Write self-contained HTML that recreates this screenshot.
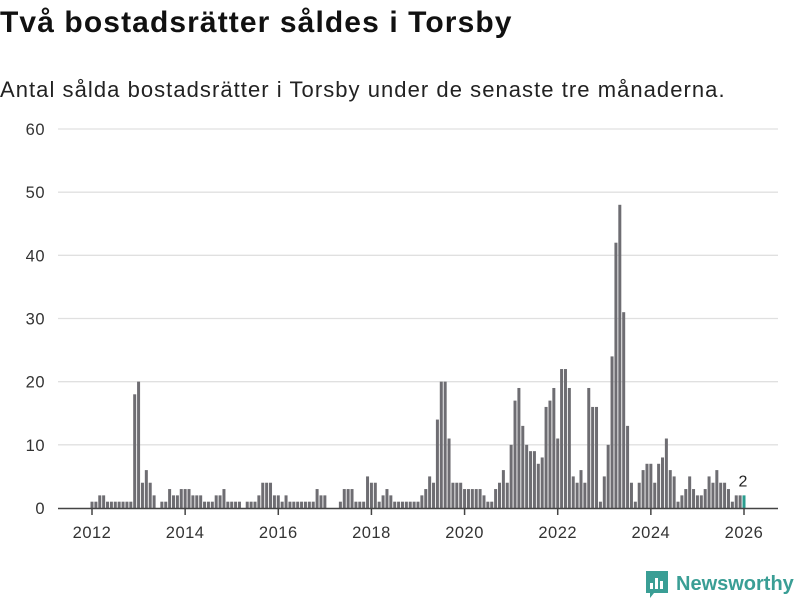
<!DOCTYPE html>
<html><head><meta charset="utf-8"><style>
body{margin:0;background:#fff;font-family:"Liberation Sans",sans-serif;}
#wrap{position:relative;width:800px;height:600px;overflow:hidden;}
h1{position:absolute;left:0;top:6px;margin:0;font-size:30px;font-weight:bold;color:#111;letter-spacing:1.1px}
p.sub{position:absolute;left:0;top:77px;margin:0;font-size:22px;color:#222;letter-spacing:1.05px}
</style></head><body>
<div id="wrap">
<h1>Två bostadsrätter såldes i Torsby</h1>
<p class="sub">Antal sålda bostadsrätter i Torsby under de senaste tre månaderna.</p>
<svg id="chart" width="800" height="600" style="position:absolute;left:0;top:0"></svg>
</div>
<script>
const startYear = 2012;
const values = [
1,1,2,2,1,1,1,1,1,1,1,18,
20,4,6,4,2,0,1,1,3,2,2,3,
3,3,2,2,2,1,1,1,2,2,3,1,
1,1,1,0,1,1,1,2,4,4,4,2,
2,1,2,1,1,1,1,1,1,1,3,2,
2,0,0,0,1,3,3,3,1,1,1,5,
4,4,1,2,3,2,1,1,1,1,1,1,
1,2,3,5,4,14,20,20,11,4,4,4,
3,3,3,3,3,2,1,1,3,4,6,4,
10,17,19,13,10,9,9,7,8,16,17,19,
11,22,22,19,5,4,6,4,19,16,16,1,
5,10,24,42,48,31,13,4,1,4,6,7,
7,4,7,8,11,6,5,1,2,3,5,3,
2,2,3,5,4,6,4,4,3,1,2,2,
2];
const yTicks = [0,10,20,30,40,50,60];
const xTickYears = [2012,2014,2016,2018,2020,2022,2024,2026];

const svg = document.getElementById('chart');
const NS = 'http://www.w3.org/2000/svg';
const x0 = 92, x1 = 744, y0 = 508, yTop = 129;
const monthW = (x1 - x0) / ((2026 - startYear) * 12);
const xScale = m => x0 + m * monthW;
const yScale = v => y0 - (v / 60) * (y0 - yTop);
function mk(tag, attrs){const e=document.createElementNS(NS,tag);for(const k in attrs)e.setAttribute(k,attrs[k]);svg.appendChild(e);return e;}

yTicks.forEach(t=>{
  if(t>0){const g=mk('line',{x1:58,x2:778,y1:yScale(t),y2:yScale(t),stroke:'#e0e0e0','stroke-width':1.3});
  
  }
  const l=mk('text',{x:45,y:yScale(t)+6,'text-anchor':'end','font-size':16.5,fill:'#333','font-family':'Liberation Sans, sans-serif','letter-spacing':0.5});
  l.textContent=t;
  
  
});

values.forEach((v,i)=>{
  const last = i===values.length-1;
  const r=mk('rect',{x:xScale(i)-1.5,y:yScale(v),width:3,height:y0-yScale(v),fill:last?'#2a9d8f':'#6e6d72'});
  
  
});

const ax=mk('line',{x1:58,x2:778,y1:y0+0.5,y2:y0+0.5,stroke:'#444','stroke-width':1.5});


xTickYears.forEach(yr=>{
  const x=xScale((yr-startYear)*12);
  const t=mk('line',{x1:x,x2:x,y1:y0,y2:y0+7,stroke:'#444','stroke-width':1.5});
  
  
  const l=mk('text',{x:x,y:y0+30,'text-anchor':'middle','font-size':16.5,fill:'#333','font-family':'Liberation Sans, sans-serif','letter-spacing':0.5});
  l.textContent=yr;
  
  
});

const li=values.length-1;
const vl=mk('text',{x:xScale(li)-1,y:yScale(values[li])-9,'text-anchor':'middle','font-size':16,fill:'#222','font-family':'Liberation Sans, sans-serif'});
vl.textContent=values[li];



const logo=mk('g',{});


const ic=document.createElementNS(NS,'path');
ic.setAttribute('d','M646 571h22v22h-14l-4 5v-5h-4z');
ic.setAttribute('fill','#3a9e95');
logo.appendChild(ic);
[[650,583,3,6],[655,578,3,11],[660,581,3,8]].forEach(b=>{const r=document.createElementNS(NS,'rect');r.setAttribute('x',b[0]);r.setAttribute('y',b[1]);r.setAttribute('width',b[2]);r.setAttribute('height',b[3]);r.setAttribute('fill','#fff');logo.appendChild(r);});
const lt=document.createElementNS(NS,'text');
lt.setAttribute('x',676);lt.setAttribute('y',590);lt.setAttribute('font-size',20);lt.setAttribute('font-weight','bold');lt.setAttribute('fill','#3a9e95');lt.setAttribute('font-family','Liberation Sans, sans-serif');
lt.textContent='Newsworthy';
logo.appendChild(lt);
</script>
</body></html>
